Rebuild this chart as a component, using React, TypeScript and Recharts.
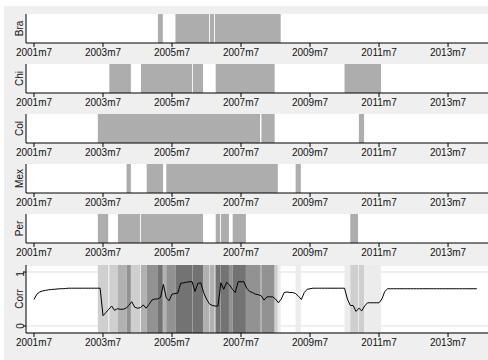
import {
  ComposedChart,
  Line,
  XAxis,
  YAxis,
  CartesianGrid,
  ReferenceArea,
} from "recharts";

// months counted from 2001m7 (t = 0)
const tickMonths = [0, 24, 48, 72, 96, 120, 144];
const tickLabels = ["2001m7", "2003m7", "2005m7", "2007m7", "2009m7", "2011m7", "2013m7"];

// shaded periods per country, [start, end] in months since 2001m7
const braPeriods = [[43.1, 44.8], [49.2, 60.9], [61.2, 62.6], [62.9, 85.8]];
const chiPeriods = [[26.2, 33.7], [37.2, 55], [55.3, 58.8], [63.2, 83.7], [108, 120.7]];
const colPeriods = [[22.2, 78.6], [79.1, 83.7], [113, 114.8]];
const mexPeriods = [[32.2, 33.7], [39.2, 44.9], [46, 84.8], [91, 92.8]];
const perPeriods = [[22.2, 25.8], [29.2, 36.9], [37.2, 58.8], [63.2, 64.7], [65, 67.8], [69.1, 73.7], [110, 112.7]];

const countryNames = ["Bra", "Chi", "Col", "Mex", "Per"];
const countryPeriods = [braPeriods, chiPeriods, colPeriods, mexPeriods, perPeriods];

// monthly correlation, 2001m7 .. 2014m4
const corrValues = [
  0.49, 0.59, 0.63, 0.65, 0.66, 0.67, 0.675, 0.68, 0.685, 0.69, 0.69, 0.695,
  0.7, 0.7, 0.7, 0.7, 0.7, 0.7, 0.7, 0.7, 0.7, 0.7, 0.7, 0.7,
  0.19, 0.25, 0.31, 0.37, 0.29, 0.32, 0.31, 0.31, 0.33, 0.38, 0.45, 0.35,
  0.33, 0.34, 0.39, 0.33, 0.4, 0.48, 0.5, 0.5, 0.53, 0.77, 0.52, 0.47,
  0.59, 0.6, 0.61, 0.79, 0.8, 0.81, 0.82, 0.82, 0.64, 0.79, 0.8, 0.62,
  0.5, 0.41, 0.38, 0.37, 0.37, 0.8, 0.68, 0.81, 0.76, 0.68, 0.62, 0.82,
  0.82, 0.82, 0.7, 0.64, 0.62, 0.59, 0.58, 0.56, 0.48, 0.54, 0.54, 0.54,
  0.5, 0.43, 0.5, 0.62, 0.63, 0.62, 0.62, 0.6, 0.55, 0.49, 0.62, 0.68,
  0.69, 0.7, 0.7, 0.7, 0.7, 0.7, 0.7, 0.7, 0.7, 0.7, 0.7, 0.7,
  0.7, 0.5, 0.38, 0.38, 0.27, 0.33, 0.28, 0.37, 0.43, 0.43, 0.43, 0.43,
  0.43, 0.5, 0.64, 0.69, 0.69, 0.69, 0.69, 0.69, 0.69, 0.69, 0.69, 0.69,
  0.69, 0.69, 0.69, 0.69, 0.69, 0.69, 0.69, 0.69, 0.69, 0.69, 0.69, 0.69,
  0.69, 0.69, 0.69, 0.69, 0.69, 0.69, 0.69, 0.69, 0.69, 0.69, 0.69,
];

const data = corrValues.map((v, i) => ({ t: i, corr: v }));

const X_DOMAIN = [-2.78, 157.9];
const shadeByCount = ["#ffffff", "#ececec", "#cfcfcf", "#b1b1b1", "#929292", "#737373"];
const TEXT = "#111";

// split time into pieces and count how many countries are shaded in each
function overlapBands() {
  const cuts = Array.from(new Set(countryPeriods.flat(2))).sort((a, b) => a - b);
  const bands: { x1: number; x2: number; n: number }[] = [];
  for (let i = 0; i < cuts.length - 1; i++) {
    const mid = (cuts[i] + cuts[i + 1]) / 2;
    const n = countryPeriods.filter((ps) => ps.some(([s, e]) => s <= mid && mid <= e)).length;
    const last = bands[bands.length - 1];
    if (last && last.n === n && last.x2 === cuts[i]) last.x2 = cuts[i + 1];
    else bands.push({ x1: cuts[i], x2: cuts[i + 1], n });
  }
  return bands.filter((b) => b.n > 0);
}

const AxisTitle = ({ viewBox, text }: any) => {
  const cy = viewBox.y + viewBox.height / 2;
  return (
    <text x={23} y={cy} transform={`rotate(-90 23 ${cy})`} textAnchor="middle" fontSize={10} fill={TEXT}>
      {text}
    </text>
  );
};

const CorrTick = ({ x, y, payload }: any) => (
  <text x={x + 3} y={y} transform={`rotate(-90 ${x + 3} ${y})`} textAnchor="middle" fontSize={10} fill={TEXT}>
    {payload.value}
  </text>
);

const xAxisProps = {
  dataKey: "t",
  type: "number" as const,
  domain: X_DOMAIN,
  ticks: tickMonths,
  tickFormatter: (t: number) => tickLabels[tickMonths.indexOf(t)],
  allowDataOverflow: true,
  height: 18,
  tickSize: 4,
  tickMargin: 2,
  interval: 0 as const,
  axisLine: { stroke: "#000" },
  tickLine: { stroke: "#000" },
  tick: { fontSize: 10, fill: TEXT },
};

function CountryPanel({ name, periods, top }: { name: string; periods: number[][]; top: number }) {
  return (
    <div style={{ position: "absolute", left: 0, top }}>
      <ComposedChart width={488} height={29 + 18} data={data} margin={{ top: 0, right: 0, bottom: 0, left: 0 }}>
        <CartesianGrid horizontal={false} vertical={false} fill="#fff" />
        <XAxis {...xAxisProps} />
        <YAxis
          domain={[0, 1]}
          allowDataOverflow
          width={26}
          tick={false}
          tickLine={false}
          axisLine={{ stroke: "#000" }}
          label={<AxisTitle text={name} />}
        />
        {periods.map(([s, e], i) => (
          <ReferenceArea
            key={i}
            x1={s}
            x2={e}
            y1={0}
            y2={1}
            ifOverflow="visible"
            fill="#adadad"
            fillOpacity={1}
            stroke="none"
          />
        ))}
        {/* invisible series so the chart builds its scales */}
        <Line dataKey="corr" stroke="none" dot={false} activeDot={false} isAnimationActive={false} />
      </ComposedChart>
    </div>
  );
}

export default function App() {
  const bands = overlapBands();
  return (
    <div
      style={{
        position: "absolute",
        left: 0,
        top: 0,
        width: 488,
        height: 360,
        background: "#fff",
        overflow: "hidden",
        fontFamily: "'Liberation Sans', Arial, Helvetica, sans-serif",
      }}
    >
      <div style={{ position: "absolute", left: 4, top: 6, right: 0, bottom: 0, background: "#efefef" }} />
      {countryNames.map((name, i) => (
        <CountryPanel key={name} name={name} periods={countryPeriods[i]} top={14 + 50 * i} />
      ))}
      <div style={{ position: "absolute", left: 0, top: 265 }}>
        <ComposedChart width={488} height={68 + 18} data={data} margin={{ top: 0, right: 0, bottom: 0, left: 0 }}>
          <CartesianGrid vertical={false} stroke="#e0e0e0" strokeWidth={1.2} fill="#fff" />
          <XAxis {...xAxisProps} />
          <YAxis
            domain={[-0.13, 1.13]}
            ticks={[0, 1]}
            allowDataOverflow
            width={26}
            tickSize={3}
            axisLine={{ stroke: "#000" }}
            tickLine={{ stroke: "#000" }}
            tick={<CorrTick />}
            label={<AxisTitle text="Corr" />}
          />
          {bands.map((b, i) => (
            <ReferenceArea key={i} x1={b.x1} x2={b.x2} fill={shadeByCount[b.n]} fillOpacity={1} stroke="none" />
          ))}
          <Line
            dataKey="corr"
            type="linear"
            stroke="#000"
            strokeWidth={1}
            dot={false}
            activeDot={false}
            isAnimationActive={false}
          />
        </ComposedChart>
      </div>
    </div>
  );
}
